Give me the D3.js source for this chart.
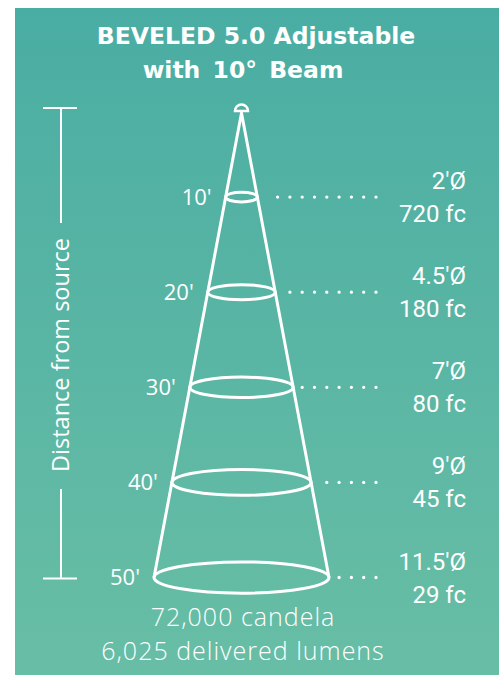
<!DOCTYPE html>
<html lang="en">
<head>
<meta charset="UTF-8">
<title>BEVELED 5.0 Adjustable with 10° Beam</title>
<script src="https://cdn.jsdelivr.net/npm/d3@7.8.5/dist/d3.min.js"></script>
<style>
    body{
        margin:0;
        background:#fff;
    }
    svg{
        display:block;
    }
</style>
</head>
<body>
<div id="chart"></div>
<script>
    // beam data
    const distances = [10, 20, 30, 40, 50];          // feet from source
    const diameters = ["2", "4.5", "7", "9", "11.5"]; // beam diameter, feet
    const footcandles = [720, 180, 80, 45, 29];
    const titleLines = ["BEVELED 5.0 Adjustable", "with 10° Beam"];
    const footerLines = ["72,000 candela", "6,025 delivered lumens"];
    const axisLabel = "Distance from source";

    const W = 504, H = 675;
    const white = "#ffffff";
    const lightFont = "'Open Sans', Lato, sans-serif";

    const svg = d3.select("#chart")
        .append("svg")
        .attr("width", W)
        .attr("height", H);

    // background panel with soft teal gradient
    const grad = svg.append("defs").append("linearGradient")
        .attr("id", "bg")
        .attr("x1", 0).attr("y1", 0).attr("x2", 0).attr("y2", 1);
    grad.append("stop").attr("offset", "0%").attr("stop-color", "#4aada3");
    grad.append("stop").attr("offset", "100%").attr("stop-color", "#68bea5");

    svg.append("rect")
        .attr("x", 15).attr("y", 8)
        .attr("width", 484).attr("height", H - 8)
        .attr("fill", "url(#bg)");

    // scales: distance -> vertical position, cone geometry from apex
    const apex = {x: 241.5, y: 113};
    const yScale = d3.scaleLinear().domain([0, 50]).range([102, 577.5]);
    const spread = 87.5 / (yScale(50) - apex.y); // half width per px below apex
    const halfW = d => (yScale(d) - apex.y) * spread;
    const dotEnd = 376;
    const rightX = 466;

    // title
    svg.append("g").selectAll("text")
        .data(titleLines)
        .join("text")
        .attr("x", (d, i) => i === 0 ? 256 : 243)
        .attr("y", (d, i) => 44 + i * 34)
        .attr("text-anchor", "middle")
        .attr("fill", white)
        .style("font-family", "'DejaVu Sans', sans-serif")
        .style("font-weight", 700)
        .style("font-size", "23.5px")
        .style("word-spacing", (d, i) => i === 0 ? "0px" : "4px")
        .text(d => d);

    // distance axis: T-bars with rotated label in the gap
    const axisX = 61;
    const axisTop = yScale(0) + 6, axisBottom = yScale(50) + 1;
    const axisG = svg.append("g").attr("stroke", white).attr("stroke-width", 2);
    axisG.append("line").attr("x1", axisX - 18).attr("x2", axisX + 16)
        .attr("y1", axisTop).attr("y2", axisTop);
    axisG.append("line").attr("x1", axisX - 18).attr("x2", axisX + 16)
        .attr("y1", axisBottom).attr("y2", axisBottom);
    axisG.append("line").attr("x1", axisX).attr("x2", axisX)
        .attr("y1", axisTop).attr("y2", 223);
    axisG.append("line").attr("x1", axisX).attr("x2", axisX)
        .attr("y1", 489).attr("y2", axisBottom);

    svg.append("text")
        .attr("transform", `translate(${axisX + 8}, 355) rotate(-90)`)
        .attr("text-anchor", "middle")
        .attr("fill", white)
        .style("font-family", lightFont)
        .style("font-size", "23.5px")
        .text(axisLabel);

    // lamp dome at the apex
    svg.append("path")
        .attr("d", `M${apex.x - 6.5},${apex.y - 2} A6.5,6.5 0 0 1 ${apex.x + 6.5},${apex.y - 2} Z`)
        .attr("fill", "none")
        .attr("stroke", white)
        .attr("stroke-width", 2.5);

    // cone edges
    const last = distances[distances.length - 1];
    svg.append("path")
        .attr("d", d3.line()([
            [apex.x - halfW(last), yScale(last)],
            [apex.x, apex.y],
            [apex.x + halfW(last), yScale(last)]
        ]))
        .attr("fill", "none")
        .attr("stroke", white)
        .attr("stroke-width", 3)
        .attr("stroke-linejoin", "round");

    const rings = svg.append("g").selectAll("g")
        .data(distances)
        .join("g");

    rings.append("ellipse")
        .attr("cx", apex.x)
        .attr("cy", d => yScale(d))
        .attr("rx", d => halfW(d))
        .attr("ry", d => 2.5 + halfW(d) * 0.15)
        .attr("fill", "none")
        .attr("stroke", white)
        .attr("stroke-width", 3);

    // dotted leaders, right-aligned at dotEnd
    rings.append("line")
        .attr("x1", dotEnd)
        .attr("x2", d => apex.x + halfW(d) + 8)
        .attr("y1", d => yScale(d))
        .attr("y2", d => yScale(d))
        .attr("stroke", white)
        .attr("stroke-width", 3.3)
        .attr("stroke-linecap", "round")
        .attr("stroke-dasharray", "0,12.3");

    // distance labels on the left
    rings.append("text")
        .attr("x", d => apex.x - halfW(d) - 14)
        .attr("y", d => yScale(d))
        .attr("dy", "0.35em")
        .attr("text-anchor", "end")
        .attr("fill", white)
        .style("font-family", lightFont)
        .style("font-size", "22px")
        .text(d => d + "'");

    // diameter + footcandle labels on the right
    const rightText = rings.append("text")
        .attr("text-anchor", "end")
        .attr("fill", white)
        .style("font-family", "Roboto, sans-serif")
        .style("font-size", "24px");
    rightText.append("tspan")
        .attr("x", rightX)
        .attr("y", d => yScale(d) - 8)
        .text((d, i) => diameters[i] + "'Ø");
    rightText.append("tspan")
        .attr("x", rightX)
        .attr("y", d => yScale(d) + 25)
        .text((d, i) => footcandles[i] + " fc");

    // footer
    svg.append("g").selectAll("text")
        .data(footerLines)
        .join("text")
        .attr("x", 243)
        .attr("y", (d, i) => 626 + i * 34)
        .attr("text-anchor", "middle")
        .attr("fill", white)
        .style("font-family", lightFont)
        .style("font-weight", 300)
        .style("font-size", "25px")
        .style("letter-spacing", "1px")
        .text(d => d);
</script>
</body>
</html>
